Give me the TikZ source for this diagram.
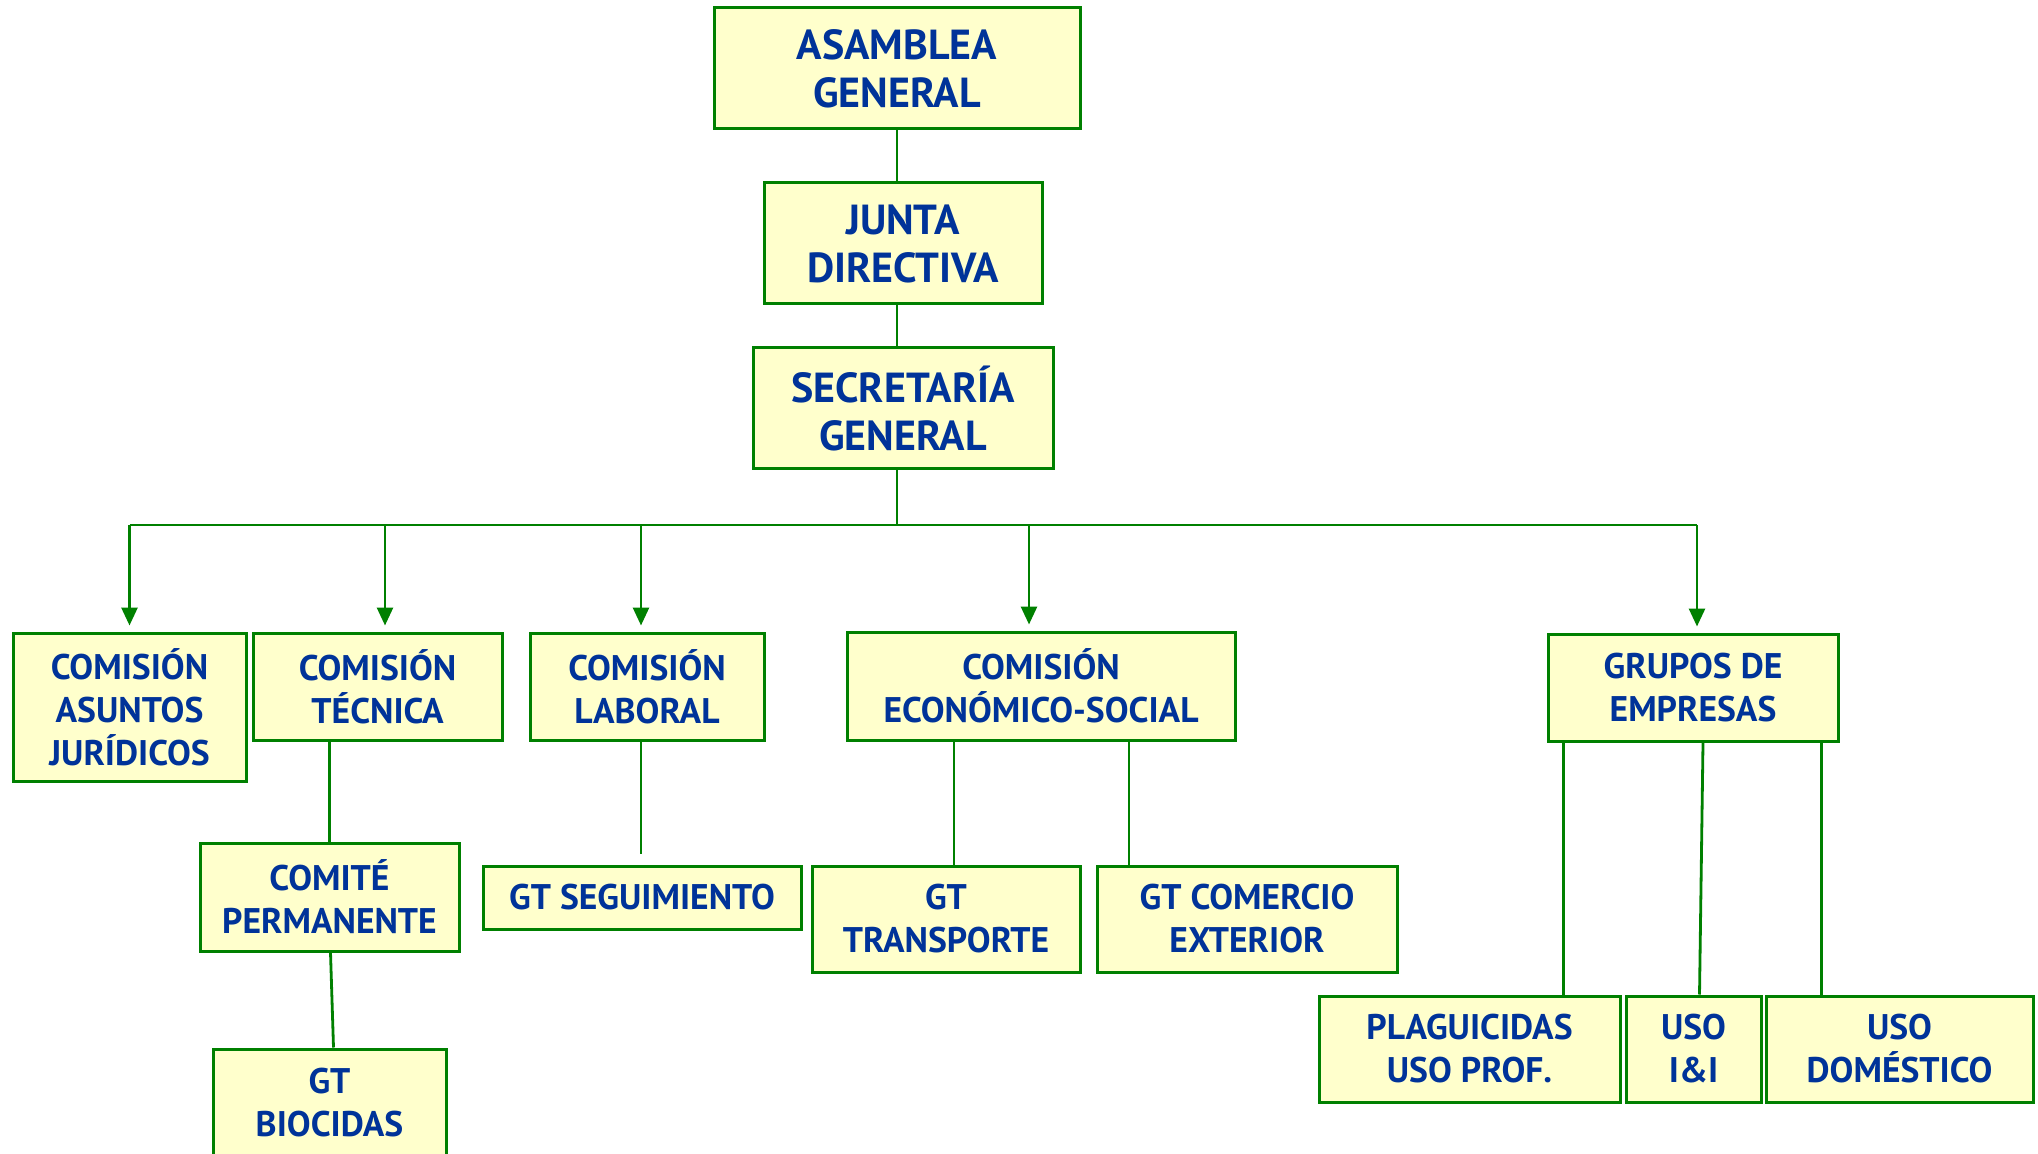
\documentclass[tikz,border=0pt]{standalone}
\usepackage{fontspec}
\setmainfont{PT Sans}
\usetikzlibrary{arrows.meta, positioning, calc}
\definecolor{orgline}{RGB}{0,128,0}
\definecolor{orgfill}{RGB}{255,255,204}
\definecolor{orgtext}{RGB}{0,51,153}
\tikzset{
    bigbox/.style={rectangle, draw=orgline, line width=1.5pt, fill=orgfill, text=orgtext, align=center, font=\fontsize{21}{24}\selectfont\bfseries, inner sep=0pt},
    unitbox/.style={rectangle, draw=orgline, line width=1.5pt, fill=orgfill, text=orgtext, align=center, font=\fontsize{17.8}{21.5}\selectfont\bfseries, inner sep=0pt},
    link/.style={draw=orgline, line width=1.4pt},
    arrow/.style={link, -{Triangle[length=9pt,width=8pt]}, shorten >=3pt}
}

\begin{document}
\begin{tikzpicture}[x=0.5pt, y=-0.5pt]
        \useasboundingbox (0,0) rectangle (2038,1154);
        \clip (0,0) rectangle (2038,1154);

        % Top of the chart
        \node (asamblea) [bigbox, minimum width=183pt, minimum height=60.5pt] at (897, 68.5) {ASAMBLEA\\GENERAL};
        \node (junta) [bigbox, minimum width=139pt, minimum height=60.5pt] at (903, 243.5) {JUNTA\\DIRECTIVA};
        \node (secretaria) [bigbox, minimum width=150pt, minimum height=60.5pt] at (903, 408.5) {SECRETARÍA\\GENERAL};

        % Comisiones
        \node (juridicos) [unitbox, minimum width=116.5pt, minimum height=74pt] at (129.5, 707) {COMISIÓN\\ASUNTOS\\JURÍDICOS};
        \node (tecnica) [unitbox, minimum width=124.5pt, minimum height=53.5pt] at (377.5, 686.5) {COMISIÓN\\TÉCNICA};
        \node (laboral) [unitbox, minimum width=117pt, minimum height=53.5pt] at (647, 686.5) {COMISIÓN\\LABORAL};
        \node (economico) [unitbox, minimum width=194pt, minimum height=54pt] at (1041, 686) {COMISIÓN\\ECONÓMICO-SOCIAL};
        \node (grupos) [unitbox, minimum width=145pt, minimum height=53.5pt] at (1693, 687.5) {GRUPOS DE\\EMPRESAS};

        % Grupos de trabajo
        \node (comite) [unitbox, minimum width=129.5pt, minimum height=54pt] at (329.5, 897) {COMITÉ\\PERMANENTE};
        \node (biocidas) [unitbox, minimum width=116.5pt, minimum height=54pt] at (329.5, 1103) {GT\\BIOCIDAS};
        \node (seguimiento) [unitbox, minimum width=159pt, minimum height=31.5pt] at (642, 897.5) {GT SEGUIMIENTO};
        \node (transporte) [unitbox, minimum width=134pt, minimum height=53pt] at (946, 919) {GT\\TRANSPORTE};
        \node (comercio) [unitbox, minimum width=150pt, minimum height=53pt] at (1247, 919) {GT COMERCIO\\EXTERIOR};
        \node (plaguicidas) [unitbox, minimum width=150.5pt, minimum height=53pt] at (1469.5, 1049) {PLAGUICIDAS\\USO PROF.};
        \node (usoii) [unitbox, minimum width=67.5pt, minimum height=53pt] at (1693.5, 1049) {USO\\I\&I};
        \node (domestico) [unitbox, minimum width=133.5pt, minimum height=53pt] at (1899.5, 1049) {USO\\DOMÉSTICO};

        % Connections
        \draw[link] (asamblea.south) -- (asamblea.south |- junta.north);
        \draw[link] (junta.south -| asamblea.south) -- (secretaria.north -| asamblea.south);

        \coordinate (bus) at (897, 525);
        \draw[link] (secretaria.south -| bus) -- (bus);
        \draw[link] (juridicos.north |- bus) -- ([xshift=2pt]grupos.north |- bus);

        \draw[arrow] (juridicos.north |- bus) -- (juridicos.north);
        \draw[arrow] ([xshift=3.75pt]tecnica.north |- bus) -- ([xshift=3.75pt]tecnica.north);
        \draw[arrow] ([xshift=-3pt]laboral.north |- bus) -- ([xshift=-3pt]laboral.north);
        \draw[arrow] ([xshift=-6pt]economico.north |- bus) -- ([xshift=-6pt]economico.north);
        \draw[arrow] ([xshift=2pt]grupos.north |- bus) -- ([xshift=2pt]grupos.north);

        \draw[link] (comite.north) -- (comite.north |- tecnica.south);
        \draw[link] ([xshift=0.5pt]comite.south) -- ([xshift=2pt]biocidas.north);

        \coordinate (segend) at ([xshift=-0.5pt, yshift=5.5pt]seguimiento.north);
        \draw[link] (laboral.south -| segend) -- (segend);

        \draw[link] ([xshift=4pt]transporte.north) -- ([xshift=4pt]transporte.north |- economico.south);
        \draw[link] ([xshift=-59pt]comercio.north) -- ([xshift=-59pt]comercio.north |- economico.south);

        \draw[link] ([xshift=8.5pt]grupos.south west) -- ([xshift=8.5pt]grupos.south west |- plaguicidas.north);
        \draw[link] ([xshift=5pt]grupos.south) -- ([xshift=3pt]usoii.north);
        \draw[link] ([xshift=-9pt]grupos.south east) -- ([xshift=-9pt]grupos.south east |- domestico.north);
\end{tikzpicture}
\end{document}
